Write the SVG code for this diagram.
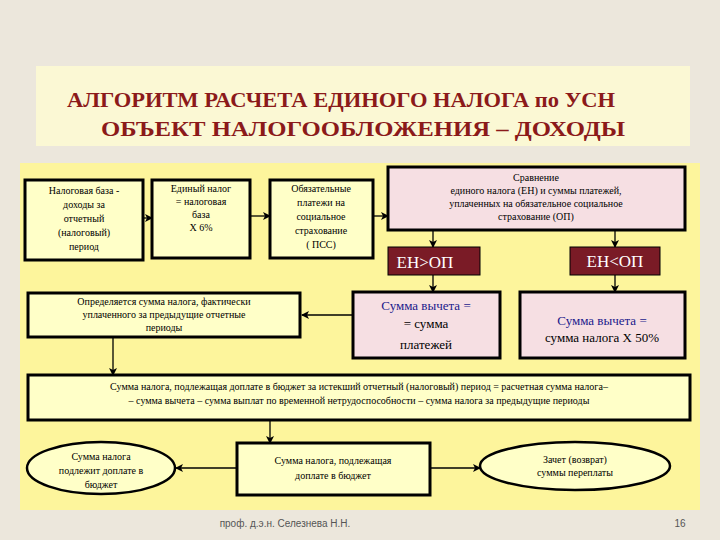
<svg xmlns="http://www.w3.org/2000/svg" width="720" height="540" viewBox="0 0 720 540">
<defs>
<marker id="ar" markerWidth="8" markerHeight="8" refX="7" refY="4" orient="auto" markerUnits="userSpaceOnUse"><path d="M0,0 L8,4 L0,8 L2,4 z" fill="#000"/></marker>
</defs>
<style>
.t{font-family:"Liberation Serif",serif;font-size:10px;fill:#000;text-anchor:middle}
.bx{fill:#ffffc8;stroke:#000;stroke-width:3}
.pk{fill:#f6dfe3;stroke:#000;stroke-width:3}
.rd{fill:#7a1b26;stroke:#000;stroke-width:1}
.w{font-family:"Liberation Serif",serif;font-size:17px;fill:#fff;text-anchor:middle}
.b{font-family:"Liberation Serif",serif;font-size:13px;text-anchor:middle}
.c{stroke:#000;stroke-width:1.3;fill:none;marker-end:url(#ar)}
.h{font-family:"Liberation Serif",serif;font-weight:bold;font-size:21px;fill:#8b1a1a;text-anchor:middle}
</style>
<rect width="720" height="540" fill="#ece7dc"/>
<rect x="36" y="66" width="654" height="80" fill="#fbf8d4"/>
<text class="h" x="341" y="107" textLength="548" lengthAdjust="spacingAndGlyphs">АЛГОРИТМ РАСЧЕТА ЕДИНОГО НАЛОГА по УСН</text>
<text class="h" x="363" y="136" textLength="524" lengthAdjust="spacingAndGlyphs">ОБЪЕКТ НАЛОГООБЛОЖЕНИЯ – ДОХОДЫ</text>
<rect x="20" y="163" width="680" height="347" fill="#fdf59c"/>
<g id="connectors">
<path class="c" d="M143,218 H152"/>
<path class="c" d="M250,216 H270"/>
<path class="c" d="M373,216 H388"/>
<path class="c" d="M433,230 V247"/>
<path class="c" d="M615,230 V247"/>
<path class="c" d="M433,275 V292"/>
<path class="c" d="M615,275 V292"/>
<path class="c" d="M353,315 H302"/>
<path class="c" d="M113,337 V375"/>
<path class="c" d="M270,420 V443"/>
<path class="c" d="M237,468 H176"/>
<path class="c" d="M430,468 H480"/>
</g>
<g id="n1"><rect x="25" y="180" width="118" height="80" class="bx" stroke-width="4"/>
<text class="t"><tspan x="84" y="194">Налоговая база -</tspan><tspan x="84" y="208">доходы за</tspan><tspan x="84" y="222">отчетный</tspan><tspan x="84" y="236">(налоговый)</tspan><tspan x="84" y="250">период</tspan></text></g>
<g id="n2"><rect x="152" y="180" width="98" height="78" class="bx"/>
<text class="t"><tspan x="201" y="192">Единый налог</tspan><tspan x="201" y="205">= налоговая</tspan><tspan x="201" y="218">база</tspan><tspan x="201" y="231">Х 6%</tspan></text></g>
<g id="n3"><rect x="270" y="180" width="103" height="78" class="bx"/>
<text class="t"><tspan x="321" y="192">Обязательные</tspan><tspan x="321" y="206">платежи на</tspan><tspan x="321" y="220">социальное</tspan><tspan x="321" y="234">страхование</tspan><tspan x="321" y="248">( ПСС)</tspan></text></g>
<g id="n4"><rect x="388" y="167" width="297" height="63" class="pk"/>
<text class="t"><tspan x="536" y="181">Сравнение</tspan><tspan x="536" y="194">единого налога  (ЕН) и суммы  платежей,</tspan><tspan x="536" y="207">уплаченных на обязательное социальное</tspan><tspan x="536" y="220">страхование (ОП)</tspan></text></g>
<g id="n5"><rect x="388" y="247" width="92" height="28" class="rd"/><text class="w" x="425" y="268">ЕН&gt;ОП</text></g>
<g id="n6"><rect x="570" y="247" width="90" height="28" class="rd"/><text class="w" x="615" y="267">ЕН&lt;ОП</text></g>
<g id="n7"><rect x="353" y="292" width="147" height="66" class="pk"/>
<text class="b"><tspan x="426" y="310" fill="#1a1a8c">Сумма вычета =</tspan><tspan x="426" y="328">= сумма</tspan><tspan x="426" y="349">платежей</tspan></text></g>
<g id="n8"><rect x="520" y="292" width="165" height="66" class="pk"/>
<text class="b" font-size="12.5"><tspan x="602" y="325" fill="#1a1a8c">Сумма вычета =</tspan><tspan x="602" y="342">сумма налога Х 50%</tspan></text></g>
<g id="n9"><rect x="28" y="293" width="272" height="44" class="bx"/>
<text class="t"><tspan x="164" y="305">Определяется сумма налога, фактически</tspan><tspan x="164" y="318">уплаченного за предыдущие отчетные</tspan><tspan x="164" y="331">периоды</tspan></text></g>
<g id="n10"><rect x="28" y="375" width="662" height="45" class="bx"/>
<text class="t" font-size="9.5"><tspan x="359" y="390">Сумма налога, подлежащая доплате в бюджет за истекший отчетный (налоговый) период = расчетная сумма налога–</tspan><tspan x="359" y="404">–  сумма вычета – сумма выплат по временной нетрудоспособности – сумма налога за предыдущие периоды</tspan></text></g>
<g id="n11"><rect x="237" y="443" width="193" height="52" class="bx"/>
<text class="t"><tspan x="333" y="464">Сумма налога, подлежащая</tspan><tspan x="333" y="479">доплате в бюджет</tspan></text></g>
<g id="n12"><ellipse cx="101" cy="468" rx="74" ry="26" fill="#ffffc8" stroke="#000" stroke-width="2.5"/>
<text class="t"><tspan x="101" y="460">Сумма налога</tspan><tspan x="101" y="474">подлежит доплате в</tspan><tspan x="101" y="488">бюджет</tspan></text></g>
<g id="n13"><ellipse cx="575" cy="466" rx="95" ry="24" fill="#ffffc8" stroke="#000" stroke-width="2.5"/>
<text class="t"><tspan x="575" y="463">Зачет (возврат)</tspan><tspan x="575" y="476">суммы переплаты</tspan></text></g>
<text x="285" y="527" font-family="Liberation Sans,sans-serif" font-size="10" fill="#555" text-anchor="middle">проф. д.э.н. Селезнева Н.Н.</text>
<text x="680" y="527" font-family="Liberation Sans,sans-serif" font-size="10" fill="#555" text-anchor="middle">16</text>
</svg>
